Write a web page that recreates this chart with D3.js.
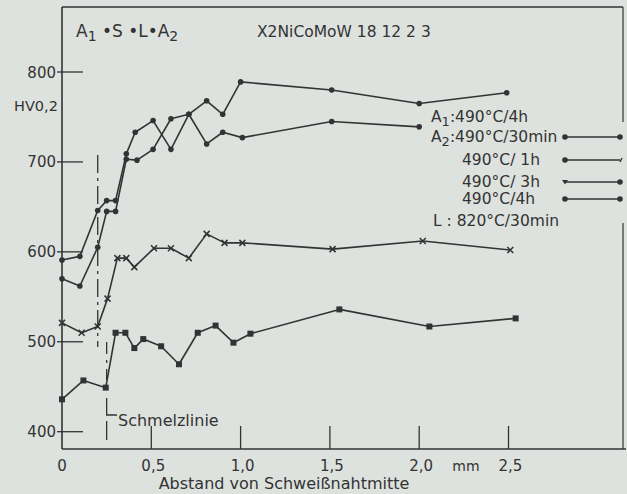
<!DOCTYPE html>
<html>
<head>
<meta charset="utf-8">
<script src="https://cdn.jsdelivr.net/npm/d3@7"></script>
<style>
  body { margin: 0; background: #dde2de; }
  svg { display: block; }
  text { font-family: "DejaVu Sans", sans-serif; fill: #333; }
</style>
</head>
<body>
<svg id="chart" width="627" height="494"></svg>
<script>
// Härteverlauf HV0,2 über Abstand von Schweißnahtmitte (mm)
const xTicks = [0, 0.5, 1.0, 1.5, 2.0, 2.5];
const xTickLabels = ["0", "0,5", "1,0", "1,5", "2,0", "2,5"];
const yTicks = [400, 500, 600, 700, 800];

// oberste Kurve
const mm_a = [0, 0.1, 0.2, 0.25, 0.3, 0.36, 0.41, 0.51, 0.61, 0.71, 0.81, 0.9, 1.0, 1.51, 2.0, 2.49];
const hv_a = [591, 595, 646, 657, 657, 709, 733, 746, 714, 753, 768, 753, 789, 780, 765, 777];
// zweite Kurve
const mm_b = [0, 0.1, 0.2, 0.25, 0.3, 0.36, 0.42, 0.51, 0.61, 0.71, 0.81, 0.9, 1.01, 1.51, 2.0];
const hv_b = [570, 562, 605, 645, 645, 703, 702, 714, 748, 753, 720, 733, 727, 745, 739];
// dritte Kurve (Kreuze)
const mm_c = [0, 0.11, 0.2, 0.255, 0.31, 0.36, 0.405, 0.515, 0.61, 0.71, 0.81, 0.91, 1.01, 1.515, 2.02, 2.51];
const hv_c = [521, 510, 517, 548, 593, 593, 583, 604, 604, 593, 620, 610, 610, 603, 612, 602];
// unterste Kurve (Quadrate)
const mm_d = [0, 0.12, 0.245, 0.3, 0.355, 0.405, 0.455, 0.555, 0.655, 0.76, 0.86, 0.96, 1.055, 1.553, 2.057, 2.54];
const hv_d = [436, 457, 449, 510, 510, 493, 503, 495, 475, 510, 518, 499, 509, 536, 517, 526];

const legendLabels = ["490°C/30min", "490°C/ 1h", "490°C/ 3h", "490°C/4h"];
const schmelzMm = [0.2, 0.25];

const ink = "#333";
const svg = d3.select("#chart");

const x = d3.scaleLinear().domain([0, 2.5]).range([62, 508.5]);
const y = d3.scaleLinear().domain([400, 800]).range([431.7, 72]);
const frameTop = 7, frameRight = 623, frameBottom = 449;

// Rahmen
svg.append("line").attr("x1", x(0)).attr("x2", x(0)).attr("y1", frameTop).attr("y2", frameBottom)
  .attr("stroke", ink).attr("stroke-width", 1.6);
svg.append("line").attr("x1", x(0)).attr("x2", frameRight).attr("y1", frameTop).attr("y2", frameTop)
  .attr("stroke", ink).attr("stroke-width", 1.4);
svg.append("line").attr("x1", x(0)).attr("x2", 626).attr("y1", frameBottom).attr("y2", frameBottom)
  .attr("stroke", ink).attr("stroke-width", 1.6);
svg.append("line").attr("x1", frameRight).attr("x2", frameRight).attr("y1", frameTop).attr("y2", 122)
  .attr("stroke", ink).attr("stroke-width", 1.2);
svg.append("line").attr("x1", frameRight).attr("x2", frameRight).attr("y1", 223).attr("y2", frameBottom)
  .attr("stroke", ink).attr("stroke-width", 1.2);

// y-Achse
yTicks.forEach(v => {
  svg.append("line").attr("x1", 57).attr("x2", 83).attr("y1", y(v)).attr("y2", y(v))
    .attr("stroke", ink).attr("stroke-width", 1.3);
  svg.append("text").attr("x", 56).attr("y", y(v) + 5.5).attr("text-anchor", "end")
    .attr("font-size", 15).text(v);
});
svg.append("text").attr("x", 14).attr("y", y(763) + 5.5).attr("font-size", 14.5).text("HV0,2");

// x-Achse
xTicks.forEach((v, i) => {
  if (v > 0) {
    svg.append("line").attr("x1", x(v)).attr("x2", x(v)).attr("y1", frameBottom - 23).attr("y2", frameBottom)
      .attr("stroke", ink).attr("stroke-width", 1.3);
  }
  svg.append("text").attr("x", x(v) + (v > 0 ? 2 : 0)).attr("y", 471).attr("text-anchor", "middle")
    .attr("font-size", 15).text(xTickLabels[i]);
});
svg.append("text").attr("x", 466).attr("y", 471).attr("text-anchor", "middle")
  .attr("font-size", 14).text("mm");
svg.append("text").attr("x", 284).attr("y", 489).attr("text-anchor", "middle")
  .attr("font-size", 16).text("Abstand von Schweißnahtmitte");

// Titel
const t1 = svg.append("text").attr("x", 76).attr("y", 37).attr("font-size", 17);
t1.append("tspan").text("A");
t1.append("tspan").attr("font-size", 14).attr("dy", 4).text("1");
t1.append("tspan").attr("dy", -4).text("  •S  •L•A");
t1.append("tspan").attr("font-size", 14).attr("dy", 4).text("2");
svg.append("text").attr("x", 257).attr("y", 37).attr("font-size", 15.5).text("X2NiCoMoW  18 12 2 3");

// Schmelzlinie
svg.append("line").attr("x1", x(schmelzMm[0])).attr("x2", x(schmelzMm[0]))
  .attr("y1", 155).attr("y2", 347)
  .attr("stroke", ink).attr("stroke-width", 1.3).attr("stroke-dasharray", "18,5,3,5");
svg.append("line").attr("x1", x(schmelzMm[1])).attr("x2", x(schmelzMm[1]))
  .attr("y1", 342).attr("y2", 380)
  .attr("stroke", ink).attr("stroke-width", 1.3).attr("stroke-dasharray", "12,6,3,6");
svg.append("path")
  .attr("d", `M${x(schmelzMm[1])},398 V415 H117`)
  .attr("fill", "none").attr("stroke", ink).attr("stroke-width", 1.3);
svg.append("line").attr("x1", x(schmelzMm[1])).attr("x2", x(schmelzMm[1]))
  .attr("y1", 421).attr("y2", 440).attr("stroke", ink).attr("stroke-width", 1.3);
svg.append("text").attr("x", 118).attr("y", 426).attr("font-size", 16).text("Schmelzlinie");

// Kurven
const line = d3.line().x(d => x(d[0])).y(d => y(d[1]));
const series = [
  { mm: mm_a, hv: hv_a, mark: "dot" },
  { mm: mm_b, hv: hv_b, mark: "dot" },
  { mm: mm_c, hv: hv_c, mark: "cross" },
  { mm: mm_d, hv: hv_d, mark: "square" }
];

const drawMark = function (g, type, px, py) {
  if (type === "dot") {
    g.append("circle").attr("cx", px).attr("cy", py).attr("r", 2.8).attr("fill", ink);
  } else if (type === "cross") {
    g.append("path").attr("d", `M${px - 3},${py - 3}L${px + 3},${py + 3}M${px - 3},${py + 3}L${px + 3},${py - 3}`)
      .attr("stroke", ink).attr("stroke-width", 1.5);
  } else if (type === "square") {
    g.append("rect").attr("x", px - 3).attr("y", py - 3).attr("width", 6).attr("height", 6).attr("fill", ink);
  } else if (type === "tri") {
    g.append("path").attr("d", `M${px - 3},${py - 2}L${px + 3},${py - 2}L${px},${py + 2.5}Z`).attr("fill", ink);
  }
};

series.forEach(s => {
  const pts = s.mm.map((m, i) => [m, s.hv[i]]);
  svg.append("path").attr("d", line(pts)).attr("fill", "none")
    .attr("stroke", ink).attr("stroke-width", 1.6).attr("stroke-linejoin", "round");
  const g = svg.append("g");
  pts.forEach(p => drawMark(g, s.mark, x(p[0]), y(p[1])));
});

// Legende
const lg = svg.append("g");
const a1 = lg.append("text").attr("x", 431).attr("y", 122).attr("font-size", 15.5);
a1.append("tspan").text("A");
a1.append("tspan").attr("font-size", 13).attr("dy", 4).text("1");
a1.append("tspan").attr("dy", -4).text(":490°C/4h");

const legY = [137, 160, 182, 199];
const legMarks = [["dot", "dot"], ["dot", "tick"], ["tri", "dot"], ["dot", "dot"]];
legendLabels.forEach((lab, i) => {
  const tx = lg.append("text").attr("x", i === 0 ? 431 : 462).attr("y", legY[i] + 5).attr("font-size", 15.5);
  if (i === 0) {
    tx.append("tspan").text("A");
    tx.append("tspan").attr("font-size", 13).attr("dy", 4).text("2");
    tx.append("tspan").attr("dy", -4).text(":" + lab);
  } else {
    tx.text(lab);
  }
  lg.append("line").attr("x1", 565).attr("x2", 620).attr("y1", legY[i]).attr("y2", legY[i])
    .attr("stroke", ink).attr("stroke-width", 1.6);
  drawMark(lg, legMarks[i][0], 565, legY[i]);
  if (legMarks[i][1] === "tick") {
    lg.append("line").attr("x1", 620).attr("x2", 622).attr("y1", legY[i] + 2).attr("y2", legY[i] - 2)
      .attr("stroke", ink).attr("stroke-width", 1.4);
  } else {
    drawMark(lg, legMarks[i][1], 620, legY[i]);
  }
});
svg.append("text").attr("x", 433).attr("y", 226).attr("font-size", 15.5).text("L : 820°C/30min");
</script>
</body>
</html>
